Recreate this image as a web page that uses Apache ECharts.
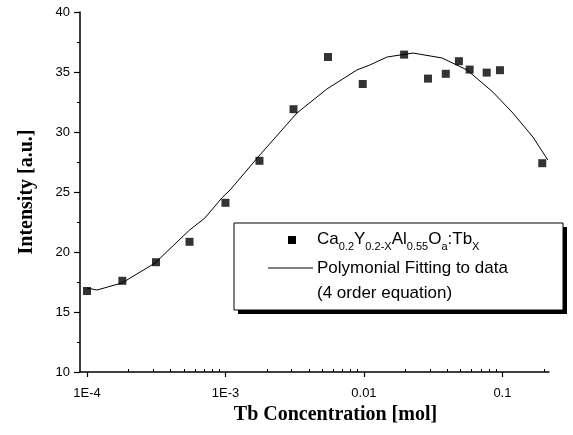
<!DOCTYPE html>
<html>
<head>
<meta charset="utf-8">
<script src="https://cdn.jsdelivr.net/npm/echarts@6/dist/echarts.min.js"></script>
<style>
  html, body { margin: 0; padding: 0; background: #fff; }
  #chart { width: 573px; height: 435px; }
</style>
</head>
<body>
<div id="chart"></div>
<script>
  // measured points: Tb concentration (mol) and intensity (a.u.)
  const conc = [1e-4, 1.8e-4, 3.15e-4, 5.5e-4, 1e-3, 1.76e-3, 3.1e-3, 5.5e-3, 0.0098, 0.0195,
                0.029, 0.039, 0.0485, 0.058, 0.077, 0.096, 0.194];
  const intensity = [16.75, 17.6, 19.15, 20.85, 24.1, 27.6, 31.9, 36.25, 34.0, 36.45,
                     34.45, 34.85, 35.9, 35.2, 34.95, 35.15, 27.4];

  // fitted curve
  const fitConc = [1e-4, 1.18e-4, 1.79e-4, 3.1e-4, 5.5e-4, 7.1e-4, 9.4e-4, 1.08e-3, 1.77e-3, 3.28e-3,
                   5.4e-3, 8.9e-3, 0.011, 0.0147, 0.0226, 0.0366, 0.0555, 0.0853, 0.119, 0.166, 0.213];
  const fitValue = [17.0, 16.83, 17.42, 19.08, 21.83, 22.83, 24.5, 25.17, 28.08, 31.58,
                    33.58, 35.17, 35.58, 36.25, 36.58, 36.17, 35.17, 33.33, 31.58, 29.58, 27.67];

  const majorTicks = [1e-4, 1e-3, 0.01, 0.1];
  const majorLabels = ['1E-4', '1E-3', '0.01', '0.1'];
  const minorTicks = [2e-4, 3e-4, 4e-4, 5e-4, 6e-4, 7e-4, 8e-4, 9e-4,
                      2e-3, 3e-3, 4e-3, 5e-3, 6e-3, 7e-3, 8e-3, 9e-3,
                      0.02, 0.03, 0.04, 0.05, 0.06, 0.07, 0.08, 0.09, 0.2];

  const sansFont = '"Liberation Sans", Arial, sans-serif';
  const serifFont = '"Liberation Serif", "Times New Roman", serif';

  const chart = echarts.init(document.getElementById('chart'));

  chart.setOption({
    animation: false,
    backgroundColor: '#fff',
    grid: { left: 80, right: 24, top: 12, bottom: 63 },
    xAxis: [
      {
        type: 'log',
        logBase: 10,
        min: 8.9e-5,
        max: 0.217,
        name: 'Tb Concentration [mol]',
        nameLocation: 'middle',
        nameGap: 29,
        nameTextStyle: { fontFamily: serifFont, fontWeight: 'bold', fontSize: 20, color: '#000', padding: [0, 0, 0, 42] },
        axisLine: { lineStyle: { color: '#000', width: 1.5 } },
        axisTick: { customValues: majorTicks, length: 5, lineStyle: { color: '#000', width: 1.2 } },
        axisLabel: {
          customValues: majorTicks,
          margin: 15,
          fontFamily: sansFont,
          fontSize: 13,
          color: '#000',
          formatter: function (v) {
            const i = majorTicks.findIndex(t => Math.abs(Math.log10(t) - Math.log10(v)) < 1e-6);
            return i >= 0 ? majorLabels[i] : '';
          }
        },
        splitLine: { show: false }
      },
      {
        type: 'log',
        logBase: 10,
        min: 8.9e-5,
        max: 0.217,
        position: 'bottom',
        axisLine: { show: false },
        axisTick: { customValues: minorTicks, inside: true, length: 3, lineStyle: { color: '#000', width: 1 } },
        axisLabel: { show: false },
        splitLine: { show: false }
      }
    ],
    yAxis: {
      type: 'value',
      min: 10,
      max: 40,
      interval: 5,
      name: 'Intensity [a.u.]',
      nameLocation: 'middle',
      nameGap: 43,
      nameTextStyle: { fontFamily: serifFont, fontWeight: 'bold', fontSize: 20, color: '#000' },
      axisLine: { show: true, lineStyle: { color: '#000', width: 1.5 } },
      axisTick: { show: true, length: 6, lineStyle: { color: '#000', width: 1.2 } },
      minorTick: { show: true, splitNumber: 2, length: 3, lineStyle: { color: '#000', width: 1 } },
      axisLabel: { margin: 10, fontFamily: sansFont, fontSize: 13, color: '#000' },
      splitLine: { show: false }
    },
    series: [
      {
        name: 'data',
        type: 'scatter',
        symbol: 'rect',
        symbolSize: 8,
        itemStyle: { color: '#000' },
        data: conc.map((c, i) => [c, intensity[i]]),
        z: 3
      },
      {
        name: 'fit',
        type: 'line',
        showSymbol: false,
        symbol: 'none',
        lineStyle: { color: '#000', width: 1 },
        data: fitConc.map((c, i) => [c, fitValue[i]]),
        z: 2
      }
    ],
    graphic: [
      {
        // legend shadow
        type: 'rect',
        shape: { x: 238, y: 227, width: 329, height: 87 },
        style: { fill: '#000' },
        z: 10
      },
      {
        type: 'rect',
        shape: { x: 234, y: 223, width: 329, height: 87 },
        style: { fill: '#fff', stroke: '#000', lineWidth: 1 },
        z: 11
      },
      {
        type: 'rect',
        shape: { x: 288, y: 236, width: 8, height: 8 },
        style: { fill: '#000' },
        z: 12
      },
      {
        type: 'line',
        shape: { x1: 268, y1: 268, x2: 313, y2: 268 },
        style: { stroke: '#000', lineWidth: 1 },
        z: 12
      },
      {
        type: 'text',
        x: 317,
        y: 231,
        style: {
          text: '{n|Ca}{s|0.2}{n|Y}{s|0.2-X}{n|Al}{s|0.55}{n|O}{s|a}{n|:Tb}{s|X}',
          rich: {
            n: { fontFamily: sansFont, fontSize: 17, color: '#000', lineHeight: 20, verticalAlign: 'top' },
            s: { fontFamily: sansFont, fontSize: 11, color: '#000', lineHeight: 11, padding: [10, 0, 0, 0], verticalAlign: 'top' }
          }
        },
        z: 12
      },
      {
        type: 'text',
        x: 317,
        y: 268,
        style: { text: 'Polymonial Fitting to data', fontFamily: sansFont, fontSize: 17, fill: '#000', verticalAlign: 'middle' },
        z: 12
      },
      {
        type: 'text',
        x: 317,
        y: 293,
        style: { text: '(4 order equation)', fontFamily: sansFont, fontSize: 17, fill: '#000', verticalAlign: 'middle' },
        z: 12
      }
    ]
  });
</script>
</body>
</html>
